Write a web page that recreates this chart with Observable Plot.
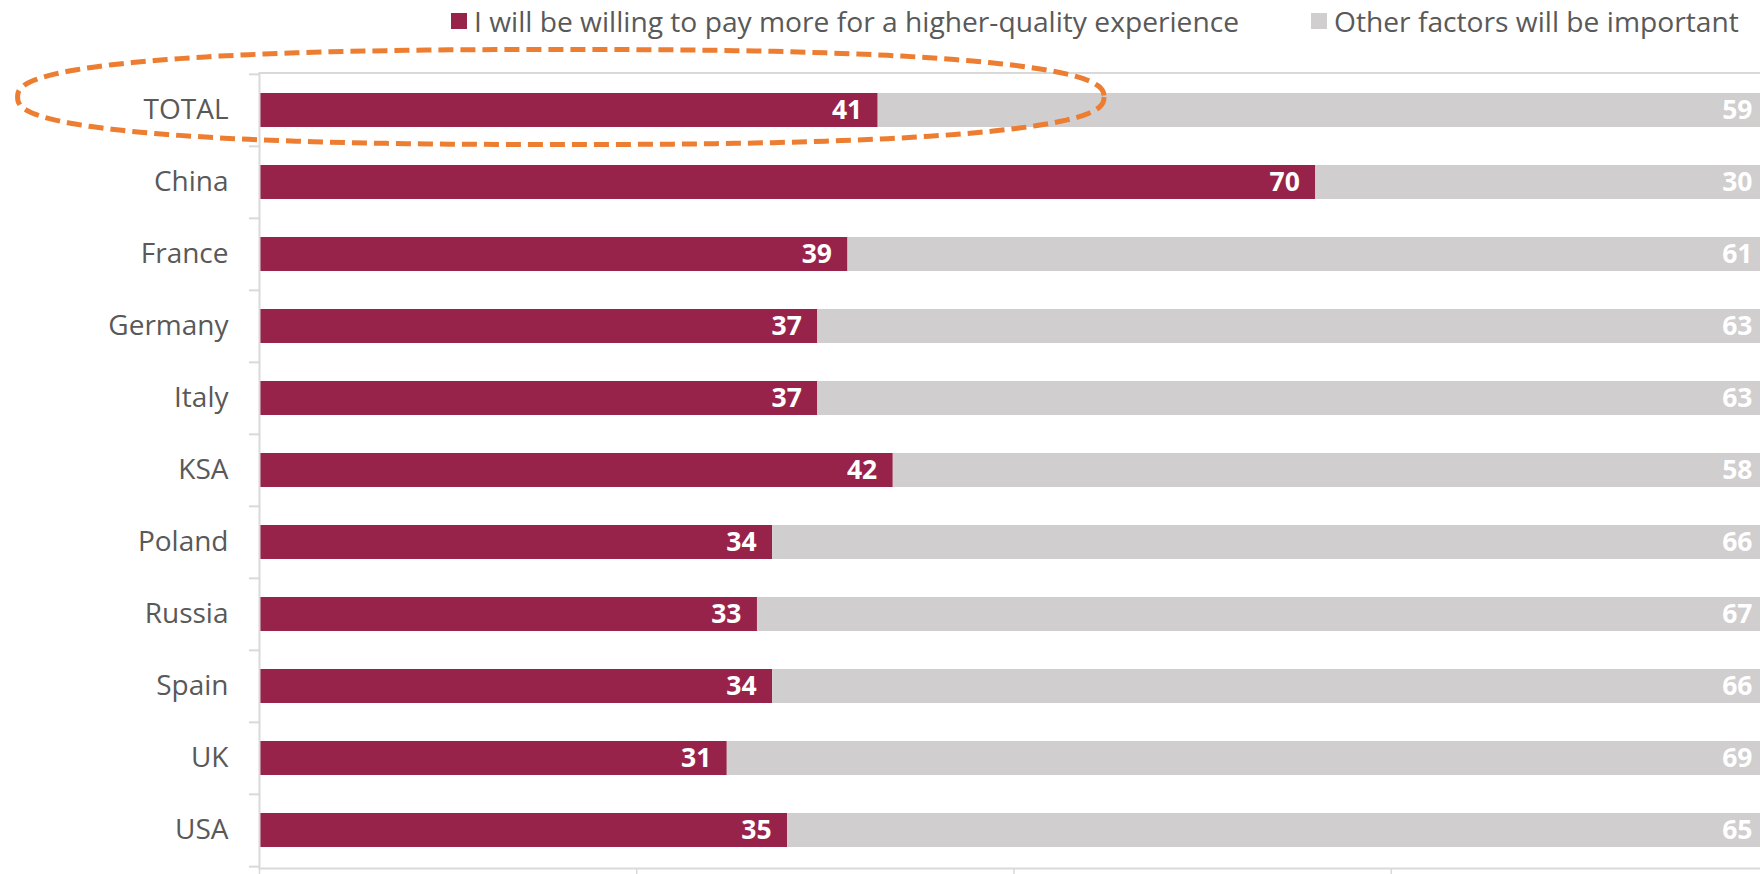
<!DOCTYPE html>
<html>
<head>
<meta charset="utf-8">
<script src="https://cdn.jsdelivr.net/npm/d3@7"></script>
<script src="https://cdn.jsdelivr.net/npm/@observablehq/plot@0.6"></script>
<style>
  html, body { margin: 0; padding: 0; background: #fff; overflow: hidden; }
  #wrap { position: relative; width: 1760px; height: 874px; font-family: "Open Sans", sans-serif; }
  #legend { position: absolute; top: 0; left: 0; width: 1760px; height: 44px; color: #595959; font-size: 28.2px; }
  .item { position: absolute; top: 0; display: flex; align-items: center; height: 42px; white-space: nowrap; }
  .sw { width: 16px; height: 16px; margin-right: 7px; }
  #chart { position: absolute; top: 0; left: 0; }
</style>
</head>
<body>
<div id="wrap">
  <div id="chart"></div>
  <div id="legend"></div>
</div>
<script>
const categories = ["TOTAL", "China", "France", "Germany", "Italy", "KSA", "Poland", "Russia", "Spain", "UK", "USA"];
const payMore = [41, 70, 39, 37, 37, 42, 34, 33, 34, 31, 35];
const otherFactors = [59, 30, 61, 63, 63, 58, 66, 67, 66, 69, 65];
const seriesNames = ["I will be willing to pay more for a higher-quality experience", "Other factors will be important"];
const seriesColors = ["#98234A", "#D0CECE"];
const xTicks = [0, 25, 50, 75, 100];
const highlight = {category: "TOTAL", x1: -16, x2: 56};

const rows = [];
categories.forEach((c, i) => {
  rows.push({country: c, series: seriesNames[0], value: payMore[i]});
  rows.push({country: c, series: seriesNames[1], value: otherFactors[i]});
});

const W = 1760, H = 874, mTop = 72.5, mBottom = 6, mLeft = 259;
const step = (H - mTop - mBottom) / categories.length;
const gridColor = "#D9D9D9";

function ellipseMark(index, scales, values, dimensions, context) {
  const xs = scales.x, ys = scales.y;
  const bw = ys.bandwidth ? ys.bandwidth() : 0;
  const cyBar = ys(highlight.category) + bw / 2;
  const left = xs(highlight.x1), right = xs(highlight.x2);
  const cx = (left + right) / 2, rx = (right - left) / 2;
  const cy = cyBar - 13, ry = 47.5, n = 2.5;
  const pts = d3.range(0, 361, 2).map(a => {
    const t = a * Math.PI / 180, c = Math.cos(t), s = Math.sin(t);
    return [cx + rx * Math.sign(c) * Math.pow(Math.abs(c), 2 / n),
            cy + ry * Math.sign(s) * Math.pow(Math.abs(s), 2 / n)];
  });
  const path = document.createElementNS("http://www.w3.org/2000/svg", "path");
  path.setAttribute("d", d3.line()(pts) + "Z");
  path.setAttribute("fill", "none");
  path.setAttribute("stroke", "#ED7D31");
  path.setAttribute("stroke-width", 5);
  path.setAttribute("stroke-dasharray", "15 7");
  const g = document.createElementNS("http://www.w3.org/2000/svg", "g");
  g.appendChild(path);
  return g;
}

const chart = Plot.plot({
  width: W,
  height: H,
  marginTop: mTop,
  marginBottom: mBottom,
  marginLeft: mLeft,
  marginRight: 0,
  style: {fontFamily: "'Open Sans', sans-serif", background: "transparent", overflow: "hidden"},
  x: {domain: [0, 100], range: [mLeft, 1768], axis: null, label: null},
  y: {domain: categories, paddingInner: 0.53, paddingOuter: 0.265, axis: null, label: null},
  color: {domain: seriesNames, range: seriesColors},
  marks: [
    Plot.frame({anchor: "top", stroke: gridColor, strokeWidth: 2}),
    Plot.frame({anchor: "bottom", stroke: gridColor, strokeWidth: 2}),
    Plot.barX(rows, Plot.stackX({x: "value", y: "country", fill: "series", order: seriesNames})),
    Plot.text(rows, Plot.stackX2({
      x: "value", y: "country", z: "series", order: seriesNames, text: d => String(d.value),
      textAnchor: "end", dx: -16, fill: "white", fontWeight: "bold", fontSize: 26.5
    })),
    Plot.ruleX([0], {stroke: gridColor, strokeWidth: 2}),
    Plot.axisY({tickSize: 10, tickFormat: null, text: null, label: null, dy: -step / 2, stroke: gridColor, strokeWidth: 2}),
    Plot.axisY([categories[categories.length - 1]], {tickSize: 10, text: null, tickFormat: null, label: null, dy: step / 2, stroke: gridColor, strokeWidth: 2}),
    Plot.axisY({tickSize: 0, tickPadding: 31, fontSize: 28, fill: "#595959", label: null}),
    Plot.axisX({ticks: xTicks, tickSize: 6, tickFormat: null, text: null, label: null, stroke: gridColor, strokeWidth: 1.5}),
    ellipseMark
  ]
});
document.getElementById("chart").appendChild(chart);

const legend = document.getElementById("legend");
const legendLeft = [451, 1311];
seriesNames.forEach((name, i) => {
  const item = document.createElement("div");
  item.className = "item";
  item.style.left = legendLeft[i] + "px";
  const sw = document.createElement("div");
  sw.className = "sw";
  sw.style.background = seriesColors[i];
  const t = document.createElement("span");
  t.textContent = name;
  item.appendChild(sw);
  item.appendChild(t);
  legend.appendChild(item);
});
</script>
</body>
</html>
